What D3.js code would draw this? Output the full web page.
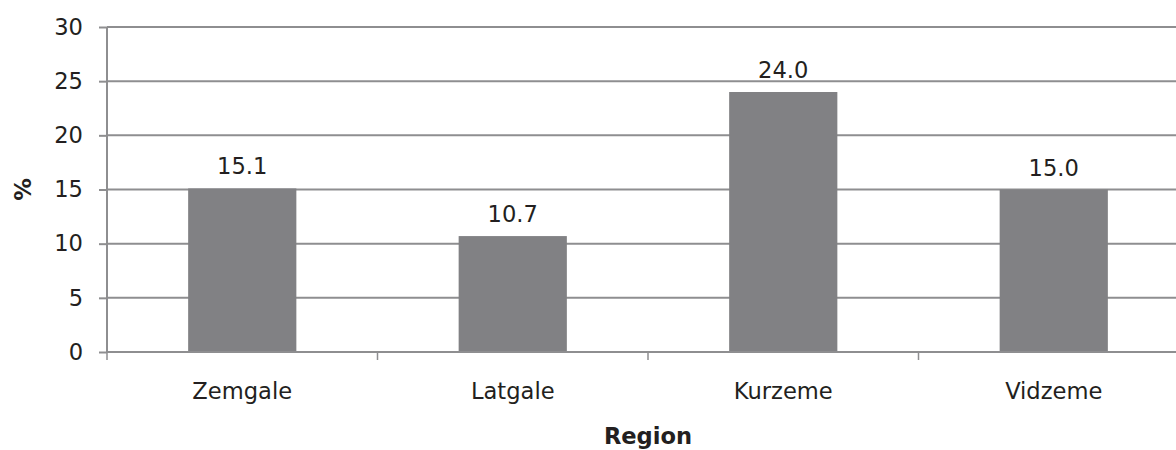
<!DOCTYPE html>
<html><head><meta charset="utf-8">
<script src="https://cdn.jsdelivr.net/npm/d3@7"></script>
<style>body{margin:0;background:#fff}svg{display:block}</style>
</head><body>
<script>
const categories = ["Zemgale", "Latgale", "Kurzeme", "Vidzeme"];
const values = [15.1, 10.7, 24.0, 15.0];
const yTicks = [0, 5, 10, 15, 20, 25, 30];
const yTitle = "%";
const xTitle = "Region";

const W = 1176, H = 450;
const mLeft = 107, mTop = 27, mBottom = 352, mRight = 1189;
const font = "'DejaVu Sans', Verdana, sans-serif";
const fs = 22.6;
const textColor = "#231f20";
const gridColor = "#8e8e90";

const svg = d3.select("body").append("svg").attr("width", W).attr("height", H);
const x = d3.scaleBand().domain(categories).range([mLeft, mRight]).paddingInner(0.6).paddingOuter(0.3);
const xb = d3.scaleBand().domain(categories).range([mLeft, mRight]);
const y = d3.scaleLinear().domain([0, 30]).range([mBottom, mTop]);

// gridlines
svg.append("g").selectAll("line").data(yTicks.filter(d => d > 0)).join("line")
  .attr("x1", mLeft).attr("x2", W).attr("y1", d => y(d)).attr("y2", d => y(d))
  .attr("stroke", gridColor).attr("stroke-width", 2);

// bars
svg.append("g").selectAll("rect").data(values).join("rect")
  .attr("x", (d, i) => x(categories[i])).attr("width", x.bandwidth())
  .attr("y", d => y(d)).attr("height", d => y(0) - y(d))
  .attr("fill", "#818184");

// y axis
const yAxis = svg.append("g").attr("transform", `translate(${mLeft},0)`)
  .call(d3.axisLeft(y).tickValues(yTicks).tickSize(8).tickPadding(16).tickFormat(d3.format("d")));
yAxis.select(".domain").attr("stroke", gridColor).attr("stroke-width", 2).attr("d", `M0,${mTop}V${mBottom}`);
yAxis.selectAll(".tick line").attr("stroke", gridColor).attr("stroke-width", 2);
yAxis.selectAll("text").attr("font-family", font).attr("font-size", fs).attr("fill", textColor);

// x axis
const xAxis = svg.append("g").attr("transform", `translate(0,${mBottom})`);
xAxis.append("line").attr("x1", mLeft).attr("x2", W).attr("y1", 0).attr("y2", 0)
  .attr("stroke", gridColor).attr("stroke-width", 2);
xAxis.selectAll("line.t").data(categories.concat(["end"])).join("line").attr("class", "t")
  .attr("x1", (d, i) => i < categories.length ? xb(d) : xb(categories[i-1]) + xb.bandwidth())
  .attr("x2", (d, i) => i < categories.length ? xb(d) : xb(categories[i-1]) + xb.bandwidth())
  .attr("y1", 0).attr("y2", 8).attr("stroke", gridColor).attr("stroke-width", 1.5);
xAxis.selectAll("text").data(categories).join("text")
  .attr("x", d => xb(d) + xb.bandwidth() / 2).attr("y", 47)
  .attr("text-anchor", "middle").attr("font-family", font).attr("font-size", fs).attr("fill", textColor)
  .text(d => d);

// value labels
svg.append("g").selectAll("text").data(values).join("text")
  .attr("x", (d, i) => x(categories[i]) + x.bandwidth() / 2).attr("y", d => y(d) - 14)
  .attr("text-anchor", "middle").attr("font-family", font).attr("font-size", fs).attr("fill", textColor)
  .text(d => d.toFixed(1));

// titles
svg.append("text").attr("x", (mLeft + mRight) / 2).attr("y", 444)
  .attr("text-anchor", "middle").attr("font-family", font).attr("font-size", fs)
  .attr("font-weight", "bold").attr("fill", textColor).text(xTitle);
svg.append("text").attr("transform", `translate(31,${(mTop + mBottom) / 2}) rotate(-90)`)
  .attr("text-anchor", "middle").attr("font-family", font).attr("font-size", fs)
  .attr("font-weight", "bold").attr("fill", textColor).text(yTitle);
</script>
</body></html>
